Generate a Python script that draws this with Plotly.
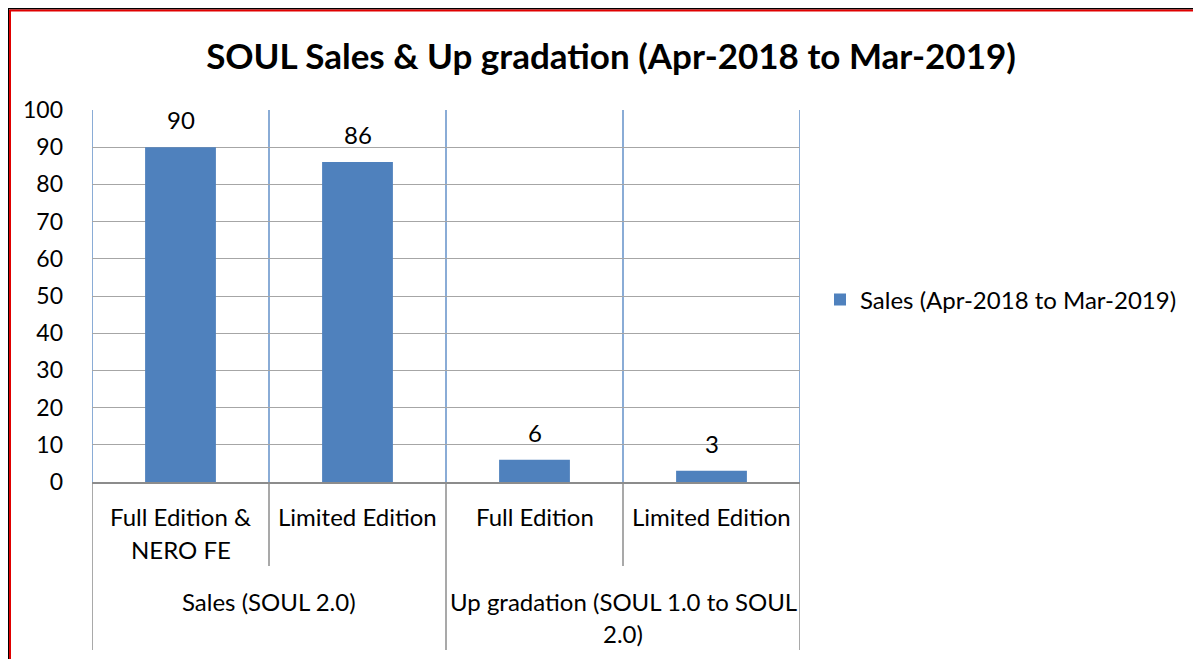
import plotly.graph_objects as go

# ---------------- data ----------------
title_text = "SOUL Sales & Up gradation (Apr-2018 to Mar-2019)"
series_name = "Sales (Apr-2018 to Mar-2019)"
groups = ["Sales (SOUL 2.0)", "Sales (SOUL 2.0)",
          "Up gradation (SOUL 1.0 to SOUL<br>2.0)", "Up gradation (SOUL 1.0 to SOUL<br>2.0)"]
categories = ["Full Edition &<br>NERO FE", "Limited Edition", "Full Edition", "Limited Edition"]
values = [90, 86, 6, 3]
y_ticks = list(range(0, 101, 10))

# ---------------- layout helpers (screen px; page has 8px body margin) ----------------
OFF = 8
W, H = 1201, 659
PLOT_L, PLOT_R, PLOT_T, PLOT_B = 92, 800, 110, 482   # screen px
L = PLOT_L - OFF
T = PLOT_T - OFF
R = W - (PLOT_R - OFF)
B = H - (PLOT_B - OFF)
PW = PLOT_R - PLOT_L
PH = PLOT_B - PLOT_T

def px_x(p):
    return (p - PLOT_L) / PW

def px_y(p):
    return (PLOT_B - p) / PH

FONT = "Lato"
BAR = "#4F81BD"
VGRID = "#6390C8"
HGRID = "#A6A6A6"
AXIS = "#8C8C8C"
FS = 24

keys = [f"{g}|{c}" for g, c in zip(groups, categories)]

fig = go.Figure()
fig.add_trace(go.Bar(
    x=keys, y=values, name=series_name, marker_color=BAR,
    marker_line_width=0, width=0.4, showlegend=True,
    hovertemplate="%{y}<extra></extra>",
))

annotations = []
# data labels
for k, v in zip(keys, values):
    annotations.append(dict(x=k, y=v, xref="x", yref="y", text=str(v),
                            showarrow=False, yanchor="bottom", yshift=11,
                            font=dict(family=FONT, size=FS, color="#000000")))

# level-1 category labels
n = len(keys)
line_gap = 32
for i, (k, c) in enumerate(zip(keys, categories)):
    for j, line in enumerate(c.split("<br>")):
        annotations.append(dict(x=k, y=px_y(517 + j * line_gap), xref="x", yref="paper",
                                text=line, showarrow=False, yanchor="middle",
                                font=dict(family=FONT, size=FS, color="#000000")))

# level-2 group labels
group_spans = []
for i, g in enumerate(groups):
    if group_spans and group_spans[-1][0] == g:
        group_spans[-1][2] = i
    else:
        group_spans.append([g, i, i])
for g, a, b in group_spans:
    for j, line in enumerate(g.split("<br>")):
        annotations.append(dict(x=(a + b) / 2, y=px_y(601 + j * line_gap), xref="x", yref="paper",
                                text=line, showarrow=False, yanchor="middle",
                                font=dict(family=FONT, size=FS, color="#000000")))

shapes = []
# vertical blue gridlines at category boundaries
for i in range(n + 1):
    shapes.append(dict(type="line", xref="x", yref="paper", x0=i - 0.5, x1=i - 0.5,
                       y0=0, y1=1, line=dict(color=VGRID, width=1.5), layer="below"))
# dividers below axis
group_bounds = set()
for g, a, b in group_spans:
    group_bounds.add(a - 0.5)
    group_bounds.add(b + 0.5)
for i in range(n + 1):
    xb = i - 0.5
    yend = px_y(650) if xb in group_bounds else px_y(566)
    shapes.append(dict(type="line", xref="x", yref="paper", x0=xb, x1=xb,
                       y0=0, y1=yend, line=dict(color=AXIS, width=1.5)))

# chart border (black + red), top and left edges
shapes.append(dict(type="line", xref="paper", yref="paper", x0=px_x(8), x1=px_x(W + 20),
                   y0=px_y(8.75), y1=px_y(8.75), line=dict(color="#000000", width=1.5)))
shapes.append(dict(type="line", xref="paper", yref="paper", x0=px_x(9.5), x1=px_x(W + 20),
                   y0=px_y(10.5), y1=px_y(10.5), line=dict(color="#E00000", width=2)))
shapes.append(dict(type="line", xref="paper", yref="paper", x0=px_x(8.5), x1=px_x(8.5),
                   y0=px_y(9), y1=px_y(H + 20), line=dict(color="#000000", width=1)))
shapes.append(dict(type="line", xref="paper", yref="paper", x0=px_x(10), x1=px_x(10),
                   y0=px_y(10), y1=px_y(H + 20), line=dict(color="#E00000", width=2)))

fig.update_layout(
    width=W, height=H,
    margin=dict(l=L, r=R, t=T, b=B, autoexpand=False),
    paper_bgcolor="#FFFFFF", plot_bgcolor="#FFFFFF",
    title=dict(text="<b>" + title_text + "</b>", x=(611 - OFF) / W, xanchor="center",
               y=1 - (57 - OFF) / H, yanchor="middle", xref="container", yref="container",
               font=dict(family=FONT, size=35, color="#000000")),
    showlegend=True,
    legend=dict(x=px_x(820), y=px_y(300), xanchor="left", yanchor="middle",
                font=dict(family=FONT, size=FS, color="#000000"),
                bgcolor="rgba(0,0,0,0)", itemclick=False),
    annotations=annotations,
    shapes=shapes,
)
fig.update_xaxes(type="category", range=[-0.5, n - 0.5], showticklabels=False,
                 showgrid=False, showline=True, linecolor=AXIS, linewidth=2,
                 ticks="", zeroline=False, fixedrange=True)
fig.update_yaxes(range=[0, 100], tickvals=y_ticks, showgrid=True, gridcolor=HGRID,
                 gridwidth=1, zeroline=False, showline=False, ticks="",
                 ticklabelstandoff=28,
                 tickfont=dict(family=FONT, size=23, color="#000000"), fixedrange=True)

fig.write_html("out.html")
